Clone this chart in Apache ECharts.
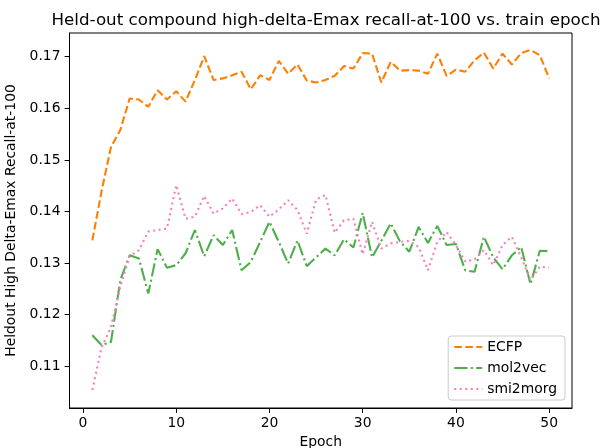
<!DOCTYPE html>
<html lang="en">
<head>
  <meta charset="UTF-8">
  <title>recall-at-100 vs epoch</title>
  <style>
    html,body{margin:0;padding:0;background:#fff;}
    #main{width:600px;height:448px;}
  </style>
</head>
<body>
  <div id="main"></div>
  <script src="https://cdn.jsdelivr.net/npm/echarts@6/dist/echarts.min.js"></script>
  <script>
    const epochs=[];
    for(let e=1;e<=50;e++) epochs.push(e);

    const ecfp=[0.1344,0.1440,0.1525,0.1558,0.1619,0.1617,0.1603,0.1635,0.1617,0.1633,
      0.1613,0.1655,0.1701,0.1655,0.1658,0.1664,0.1671,0.1637,0.1664,0.1655,
      0.1692,0.1667,0.1685,0.1654,0.1650,0.1655,0.1663,0.1682,0.1677,0.1707,
      0.1706,0.1650,0.1690,0.1673,0.1674,0.1673,0.1667,0.1706,0.1663,0.1675,
      0.1671,0.1693,0.1708,0.1677,0.1706,0.1685,0.1707,0.1713,0.1703,0.1658];

    const mol2vec=[0.1160,0.1141,0.1147,0.1267,0.1315,0.1309,0.1241,0.1327,0.1291,0.1296,
      0.1319,0.1364,0.1313,0.1354,0.1335,0.1364,0.1286,0.1302,0.1341,0.1380,
      0.1341,0.1299,0.1344,0.1294,0.1311,0.1328,0.1315,0.1346,0.1330,0.1397,
      0.1311,0.1343,0.1377,0.1342,0.1322,0.1370,0.1339,0.1372,0.1335,0.1337,
      0.1286,0.1283,0.1351,0.1311,0.1288,0.1315,0.1331,0.1259,0.1324,0.1323];

    const smi2morg=[0.1054,0.1137,0.1176,0.1254,0.1313,0.1325,0.1361,0.1364,0.1367,0.1451,
      0.1386,0.1390,0.1430,0.1396,0.1406,0.1425,0.1395,0.1399,0.1412,0.1390,
      0.1404,0.1422,0.1403,0.1357,0.1423,0.1432,0.1359,0.1383,0.1386,0.1317,
      0.1380,0.1328,0.1338,0.1341,0.1343,0.1331,0.1286,0.1341,0.1360,0.1335,
      0.1303,0.1307,0.1325,0.1296,0.1335,0.1351,0.1311,0.1267,0.1293,0.1291];

    const xTicks=[0,10,20,30,40,50];
    const yTicks=[0.11,0.12,0.13,0.14,0.15,0.16,0.17];

    const font='DejaVu Sans';
    const pair=(ys)=>epochs.map((e,i)=>[e,ys[i]]);

    const chart=echarts.init(document.querySelector('#main'),null,{renderer:'canvas'});
    const option={
      animation:false,
      title:{
        text:'Held-out compound high-delta-Emax recall-at-100 vs. train epoch',
        left:321,
        top:7,
        textAlign:'center',
        textStyle:{fontFamily:font,fontSize:16.7,fontWeight:'normal',color:'#000'}
      },
      grid:{
        left:69.5,right:28,top:33,bottom:40,
        outerBoundsMode:'none',
        show:true,borderColor:'#000',borderWidth:1,backgroundColor:'#fff'
      },
      legend:{
        orient:'vertical',
        right:35,
        bottom:48,
        itemWidth:28,
        itemHeight:12,
        itemGap:7,
        padding:[4,8,4,5],
        backgroundColor:'rgba(255,255,255,0.8)',
        borderColor:'#cccccc',
        borderWidth:1,
        borderRadius:3,
        itemStyle:{opacity:0},
        textStyle:{fontFamily:font,fontSize:13.9,color:'#000'},
        data:['ECFP','mol2vec','smi2morg']
      },
      xAxis:{
        type:'value',
        min:-1.45,
        max:52.45,
        name:'Epoch',
        nameLocation:'middle',
        nameGap:27,
        nameTextStyle:{fontFamily:font,fontSize:13.9,color:'#000'},
        axisLine:{show:true,onZero:false,lineStyle:{color:'#000',width:1}},
        axisTick:{show:true,length:4.9,lineStyle:{color:'#000'},customValues:xTicks},
        axisLabel:{fontFamily:font,fontSize:13.9,color:'#000',margin:8,customValues:xTicks},
        splitLine:{show:false}
      },
      yAxis:{
        type:'value',
        min:0.1019,
        max:0.1746,
        name:'Heldout High Delta-Emax Recall-at-100',
        nameLocation:'middle',
        nameGap:40,
        nameTextStyle:{fontFamily:font,fontSize:13.9,color:'#000'},
        axisLine:{show:true,onZero:false,lineStyle:{color:'#000',width:1}},
        axisTick:{show:true,length:4.9,lineStyle:{color:'#000'},customValues:yTicks},
        axisLabel:{fontFamily:font,fontSize:13.9,color:'#000',margin:9,customValues:yTicks,
          formatter:v=>v.toFixed(2)},
        splitLine:{show:false}
      },
      series:[
        {
          name:'ECFP',type:'line',symbol:'none',data:pair(ecfp),
          itemStyle:{color:'#ff7f00'},
          lineStyle:{color:'#ff7f00',width:2.1,type:[7.7,3.3]}
        },
        {
          name:'mol2vec',type:'line',symbol:'none',data:pair(mol2vec),
          itemStyle:{color:'#4daf4a'},
          lineStyle:{color:'#4daf4a',width:2.1,type:[13.3,3.3,2.1,3.3]}
        },
        {
          name:'smi2morg',type:'line',symbol:'none',data:pair(smi2morg),
          itemStyle:{color:'#f781bf'},
          lineStyle:{color:'#f781bf',width:2.1,type:[2.1,3.4]}
        }
      ]
    };
    chart.setOption(option);
  </script>
</body>
</html>
